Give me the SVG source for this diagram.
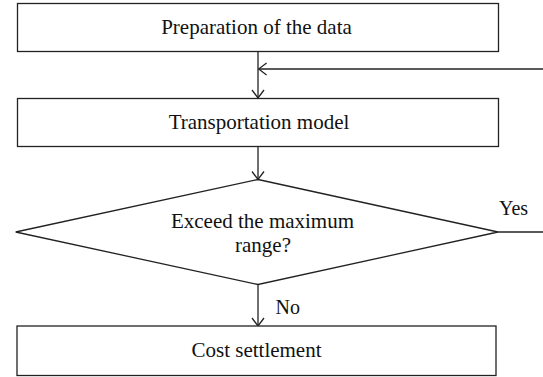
<svg xmlns="http://www.w3.org/2000/svg" width="543" height="377" viewBox="0 0 543 377">
<defs>
<style>
.box{fill:#fff;stroke:#222;stroke-width:1.3}
.ln{fill:none;stroke:#222;stroke-width:1.3}
.t{font-family:"Liberation Serif","Times New Roman",serif;font-size:21px;fill:#111;text-anchor:middle}
.lb{font-family:"Liberation Serif","Times New Roman",serif;font-size:20px;fill:#111}
</style>
<marker id="arr" viewBox="0 0 10 14" refX="9" refY="7" markerWidth="10" markerHeight="14" markerUnits="userSpaceOnUse" orient="auto">
<path d="M1,1 L9,7 L1,13" fill="none" stroke="#222" stroke-width="1.3"/>
</marker>
</defs>
<rect width="543" height="377" fill="#fff"/>
<g id="connectors">
<line class="ln" x1="258" y1="51.5" x2="258" y2="98" marker-end="url(#arr)"/>
<line class="ln" x1="543" y1="69" x2="258.6" y2="69" marker-end="url(#arr)"/>
<line class="ln" x1="258" y1="146.5" x2="258" y2="179.5" marker-end="url(#arr)"/>
<line class="ln" x1="258" y1="284.5" x2="258" y2="326" marker-end="url(#arr)"/>
<line class="ln" x1="498" y1="232" x2="543" y2="232"/>
<text class="lb" x="499" y="215">Yes</text>
<text class="lb" x="275.5" y="314">No</text>
</g>
<g id="prep">
<rect class="box" x="17.5" y="3.5" width="481" height="48"/>
<text class="t" x="256.5" y="33.5">Preparation of the data</text>
</g>
<g id="transport">
<rect class="box" x="17.5" y="98.5" width="481" height="48"/>
<text class="t" x="259" y="128.5">Transportation model</text>
</g>
<g id="decision">
<polygon class="box" points="258,179.5 498,232 258,284.5 15.7,232"/>
<text class="t" x="262.5" y="227.5">Exceed the maximum</text>
<text class="t" x="263" y="251.5">range?</text>
</g>
<g id="cost">
<rect class="box" x="17" y="326" width="479" height="49.5"/>
<text class="t" x="256.5" y="357">Cost settlement</text>
</g>
</svg>
